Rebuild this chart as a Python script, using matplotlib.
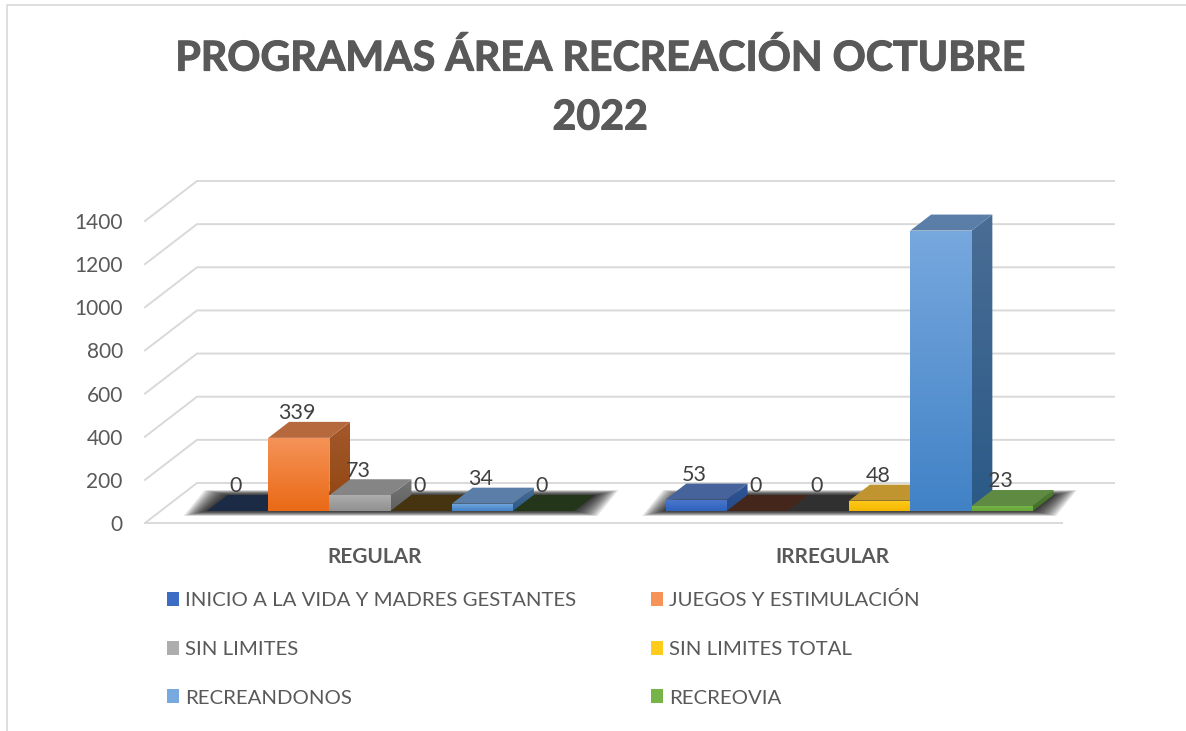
import numpy as np
import matplotlib
matplotlib.use('Agg')
import matplotlib.pyplot as plt
import matplotlib.patheffects as pe
from matplotlib.colors import to_rgb
from matplotlib.lines import Line2D
from matplotlib.patches import Polygon

categories = ['REGULAR', 'IRREGULAR']
series_names = ['INICIO A LA VIDA Y MADRES GESTANTES', 'JUEGOS Y ESTIMULACIÓN', 'SIN LIMITES',
                'SIN LIMITES TOTAL', 'RECREANDONOS', 'RECREOVIA']
inicio = [0, 53]
juegos = [339, 0]
sin_limites = [73, 0]
sin_limites_total = [0, 48]
recreandonos = [34, 1300]
recreovia = [0, 23]
series_values = [inicio, juegos, sin_limites, sin_limites_total, recreandonos, recreovia]
y_ticks = [0, 200, 400, 600, 800, 1000, 1200, 1400]

# colours per series
front_hi = ['#4a78cc', '#f59358', '#adadad', '#ffcb1c', '#77a8de', '#76b448']
front_lo = ['#2f62bd', '#ea6a16', '#909090', '#f4b700', '#4182c6', '#66a639']
top_col = ['#46639c', '#b7693e', '#858585', '#c09530', '#5a7ea8', '#5f8a42']
side_hi = ['#2f5597', '#a5592c', '#767676', '#a67f10', '#4a6d95', '#4e7f30']
side_lo = ['#274a88', '#8f4510', '#606060', '#8f6d08', '#2b5a87', '#437029']
zero_col = ['#1b2a45', '#45261a', '#303030', '#45340f', '#2a4a70', '#24361a']

text_col = '#595959'
grid_col = '#d9d9d9'
font = 'Lato'

# one px in data units, the axes is the front plane of the 3d box
PX_X = 1 / 458.5
PX_Y = 1400 / 302
BOX_DX = 52 * PX_X
BOX_DY = 40 * PX_Y
BAR_W = 61.2 * PX_X
BAR_SHIFT = 0.8 * PX_X
D_FRONT = 0.3
D_BACK = 0.7


def gradient(verts, c1, c2, z):
    verts = np.array(verts)
    grad = np.linspace(to_rgb(c1), to_rgb(c2), 64).reshape(64, 1, 3)
    ext = [verts[:, 0].min(), verts[:, 0].max(), verts[:, 1].min(), verts[:, 1].max()]
    im = ax.imshow(grad, extent=ext, origin='upper', aspect='auto', zorder=z, interpolation='bilinear')
    im.set_clip_path(Polygon(verts, closed=True, transform=ax.transData))
    im.set_clip_box(fig.bbox)  # side faces go above the axes


fig = plt.figure(figsize=(11.86, 7.31), dpi=100)
ax = fig.add_axes([145 / 1186, (731 - 523) / 731, 917 / 1186, 302 / 731])
ax.patch.set_alpha(0)
for s in ax.spines.values():
    s.set_visible(False)

# walls
for v in y_ticks:
    ax.plot([-0.5, -0.5 + BOX_DX, 1.5 + BOX_DX], [v, v + BOX_DY, v + BOX_DY], color=grid_col, lw=1.4,
            clip_on=False, zorder=1)
ax.plot([-0.5, 1.5], [0, 0], color=grid_col, lw=1.4, clip_on=False, zorder=1)

# shadow on the floor
for c in range(len(categories)):
    x0 = c - 3 * BAR_W + D_FRONT * BOX_DX + BAR_SHIFT
    x1 = c + 3 * BAR_W + D_FRONT * BOX_DX + BAR_SHIFT
    sx = (D_BACK - D_FRONT) * BOX_DX
    sy = (D_BACK - D_FRONT) * BOX_DY
    y0 = D_FRONT * BOX_DY
    for k in range(14, -1, -1):
        ex = (k * 1.6 + 1) * PX_X
        ey = (k * 0.35) * PX_Y
        pts = [(x0 - ex, y0 - ey), (x1 + ex, y0 - ey), (x1 + sx + ex, y0 + sy + ey), (x0 + sx - ex, y0 + sy + ey)]
        ax.add_patch(Polygon(pts, closed=True, fc='black', ec='none', alpha=0.09, zorder=2, clip_on=False))

# bars, left to right so the later ones sit over the side of the earlier ones
z = 3
for c in range(len(categories)):
    for i, vals in enumerate(series_values):
        v = vals[c]
        x = c + (i - 2.5) * BAR_W + D_FRONT * BOX_DX + BAR_SHIFT
        y0 = D_FRONT * BOX_DY
        sx = (D_BACK - D_FRONT) * BOX_DX
        sy = (D_BACK - D_FRONT) * BOX_DY
        l = x - BAR_W / 2
        r = x + BAR_W / 2
        top_pts = [(l, y0 + v), (r, y0 + v), (r + sx, y0 + v + sy), (l + sx, y0 + v + sy)]
        if v == 0:
            ax.add_patch(Polygon(top_pts, closed=True, fc=zero_col[i], ec='none', zorder=z, clip_on=False))
        else:
            gradient([(r, y0), (r + sx, y0 + sy), (r + sx, y0 + v + sy), (r, y0 + v)], side_hi[i], side_lo[i], z)
            ax.add_patch(Polygon(top_pts, closed=True, fc=top_col[i], ec='none', zorder=z, clip_on=False))
            ax.bar(x, v, BAR_W, bottom=y0, color=front_lo[i], zorder=z)
            gradient([(l, y0), (r, y0), (r, y0 + v), (l, y0 + v)], front_hi[i], front_lo[i], z)
        ax.annotate(str(v), (x, y0 + v + sy), xytext=(-1.2, 6.2), textcoords='offset points',
                    ha='center', va='center', fontsize=15.5, color='#404040', family=font, zorder=50)
        z += 1

ax.set_xlim(-0.5, 1.5)
ax.set_ylim(0, 1400)
ax.set_xticks(range(len(categories)), categories, fontsize=15, fontweight='bold', color=text_col, family=font)
ax.set_yticks(y_ticks, [str(t) for t in y_ticks], fontsize=15, color=text_col, family=font)
ax.tick_params(axis='y', length=0, pad=16)
ax.tick_params(axis='x', length=0, pad=17)

# legend, excel fills it row by row
order = [0, 2, 4, 1, 3, 5]
handles = [plt.Rectangle((0, 0), 1, 1, fc=front_hi[i] if i else '#3d6cc4', ec='none') for i in order]
labels = [series_names[i] for i in order]
leg = fig.legend(handles, labels, ncols=2, loc='upper left', bbox_to_anchor=(167 / 1186, 1 - 591 / 731),
                 frameon=False, labelcolor=text_col, prop={'family': font, 'size': 14.7},
                 borderpad=0, borderaxespad=0, handlelength=0.6, handleheight=0.68, handletextpad=0.3,
                 labelspacing=1.55, columnspacing=3.65)

fig.text(600 / 1186, 1 - 88 / 731, 'PROGRAMAS ÁREA RECREACIÓN OCTUBRE\n2022', ha='center', va='center',
         fontsize=29.6, fontweight='bold', color=text_col, family=font, linespacing=1.73,
         path_effects=[pe.withStroke(linewidth=0.8, foreground=text_col)])

# chart border
fig.add_artist(Line2D([6.5 / 1186, 6.5 / 1186, 1], [0, 1 - 5 / 731, 1 - 5 / 731], color=grid_col, lw=1.2))

fig.savefig('out.png', dpi=100)
